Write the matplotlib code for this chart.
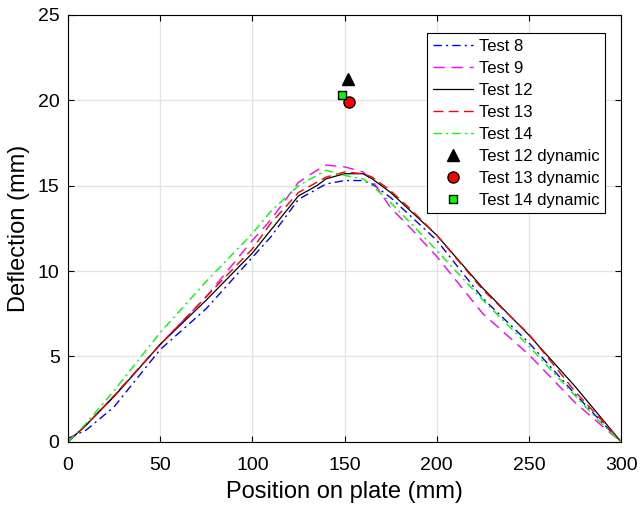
import matplotlib
matplotlib.use("Agg")
import matplotlib.pyplot as plt

plt.rcParams["font.family"] = ["Liberation Sans", "DejaVu Sans"]

# posiciones a lo largo de la placa (mm)
pos = [0, 10, 25, 50, 75, 100, 110, 125, 135, 140, 150, 160, 165, 175, 185, 200, 225, 250, 275, 290, 300]

test8 = [0.2, 0.7, 2.05, 5.4, 7.8, 10.8, 12.0, 14.2, 14.8, 15.1, 15.3, 15.3, 15.1, 14.3, 13.3, 11.8, 8.4, 5.8, 2.8, 1.1, 0]
test9 = [0.0, 1.0, 2.7, 5.7, 8.5, 11.8, 13.0, 15.2, 15.9, 16.2, 16.1, 15.8, 15.3, 13.7, 12.6, 10.85, 7.5, 5.1, 2.3, 0.9, 0]
test12 = [0.0, 1.0, 2.65, 5.7, 8.3, 11.05, 12.4, 14.4, 15.0, 15.4, 15.7, 15.7, 15.4, 14.6, 13.6, 12.1, 9.0, 6.25, 3.25, 1.3, 0]
test13 = [0.0, 1.0, 2.7, 5.7, 8.5, 11.3, 12.8, 14.6, 15.2, 15.5, 15.8, 15.7, 15.5, 14.7, 13.7, 12.1, 8.9, 6.3, 2.95, 1.2, 0]
test14 = [0.0, 1.1, 3.0, 6.4, 9.4, 12.2, 13.5, 15.0, 15.6, 15.9, 15.6, 15.4, 15.0, 14.0, 12.9, 11.2, 8.3, 5.6, 2.7, 1.0, 0]

# puntos dinamicos
din_labels = ["Test 12 dynamic", "Test 13 dynamic", "Test 14 dynamic"]
din_x = [152.1, 152.5, 148.8]
din_y = [21.25, 19.9, 20.33]

fig = plt.figure(figsize=(6.41, 5.12), dpi=100)
ax = fig.add_axes([0.106, 0.137, 0.863, 0.834])

ax.plot(pos, test8, color="blue", linestyle=(0, (6, 3, 1.5, 3)), lw=1.0, label="Test 8")
ax.plot(pos, test9, color="magenta", linestyle=(0, (8, 5)), lw=1.0, label="Test 9")
ax.plot(pos, test12, color="black", linestyle="-", lw=0.9, label="Test 12")
ax.plot(pos, test13, color="red", linestyle=(0, (7, 4)), lw=1.0, label="Test 13")
ax.plot(pos, test14, color="#00ff00", linestyle=(0, (6, 3, 1.5, 3)), lw=1.0, label="Test 14")

ax.plot(din_x[0], din_y[0], "^", color="black", ms=8, linestyle="none", label=din_labels[0])
ax.plot(din_x[1], din_y[1], "o", mfc="red", mec="black", ms=8, linestyle="none", label=din_labels[1])
ax.plot(din_x[2], din_y[2], "s", mfc="#00ff00", mec="black", ms=6, linestyle="none", label=din_labels[2])

ax.set_xlim(0, 300)
ax.set_ylim(0, 25)
ax.set_xticks([0, 50, 100, 150, 200, 250, 300])
ax.set_yticks([0, 5, 10, 15, 20, 25])
ax.grid(True, color="#e3e3e3", lw=0.9)
ax.set_axisbelow(True)
ax.tick_params(direction="in", top=True, right=True, labelsize=14, length=4)
ax.tick_params(axis="x", pad=11)
ax.tick_params(axis="y", pad=6)
for s in ax.spines.values():
    s.set_linewidth(0.8)

ax.set_xlabel("Position on plate (mm)", fontsize=17, labelpad=5)
ax.set_ylabel("Deflection (mm)", fontsize=17, labelpad=6)

leg = ax.legend(loc="upper right", bbox_to_anchor=(0.971, 0.958), borderaxespad=0,
                fontsize=12, frameon=True, fancybox=False, edgecolor="black",
                framealpha=1, handlelength=2.4, borderpad=0.35, labelspacing=0.42,
                handletextpad=0.35)
leg.get_frame().set_linewidth(0.8)

fig.savefig("out.png", dpi=100)
